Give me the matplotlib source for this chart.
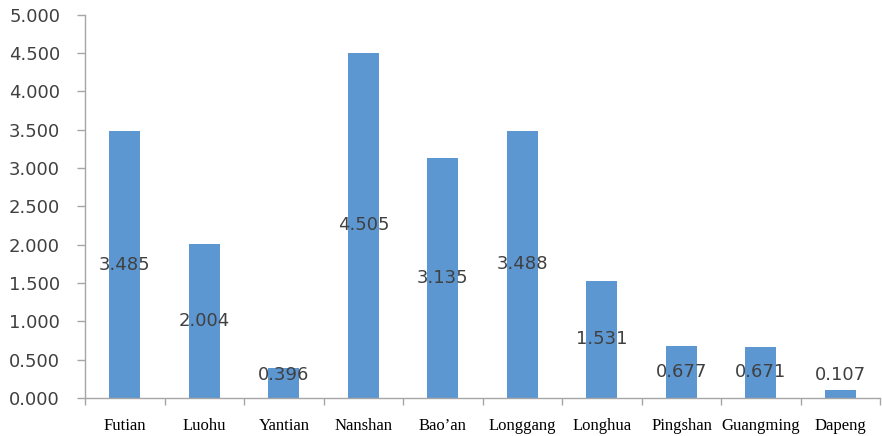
import numpy as np
import matplotlib
matplotlib.use('Agg')
import matplotlib.pyplot as plt

############# Data #############
districts = ['Futian', 'Luohu', 'Yantian', 'Nanshan', "Bao\u2019an",
             'Longgang', 'Longhua', 'Pingshan', 'Guangming', 'Dapeng']
values = [3.485, 2.004, 0.396, 4.505, 3.135, 3.488, 1.531, 0.677, 0.671, 0.107]
y_ticks = [0.0, 0.5, 1.0, 1.5, 2.0, 2.5, 3.0, 3.5, 4.0, 4.5, 5.0]

bar_color = '#5D97D1'
axis_color = '#A6A6A6'
text_color = '#404040'

############# Plot #############
fig = plt.figure(figsize=(8.82, 4.36), dpi=100)
ax = fig.add_axes([0.0965, 0.087, 0.9015, 0.879])

x = np.arange(len(districts))
ax.bar(x, values, width=0.39, color=bar_color, zorder=2)

# labels in the middle of each bar, kept inside the plot near the bottom
for xi, v in zip(x, values):
    ax.text(xi, max(v / 2, 0.3), f'{v:.3f}', ha='center', va='center',
            fontsize=13, color=text_color)

ax.set_xlim(-0.5, len(districts) - 0.5)
ax.set_ylim(0, 5.0)
ax.set_yticks(y_ticks)
ax.set_yticklabels([f'{t:.3f}' for t in y_ticks], fontsize=13, color=text_color)
ax.set_xticks(x)
ax.set_xticklabels(districts, fontsize=12, family='Liberation Serif', color='black')
ax.set_xticks(np.arange(-0.5, len(districts), 1.0), minor=True)

ax.tick_params(axis='x', which='major', length=0, pad=14)
ax.tick_params(axis='x', which='minor', length=5, color=axis_color, width=1)
ax.tick_params(axis='y', length=6, color=axis_color, width=1, pad=12)

for side in ['top', 'right']:
    ax.spines[side].set_visible(False)
for side in ['left', 'bottom']:
    ax.spines[side].set_color(axis_color)
    ax.spines[side].set_linewidth(1)

plt.savefig('out.png', dpi=100)
plt.close()
